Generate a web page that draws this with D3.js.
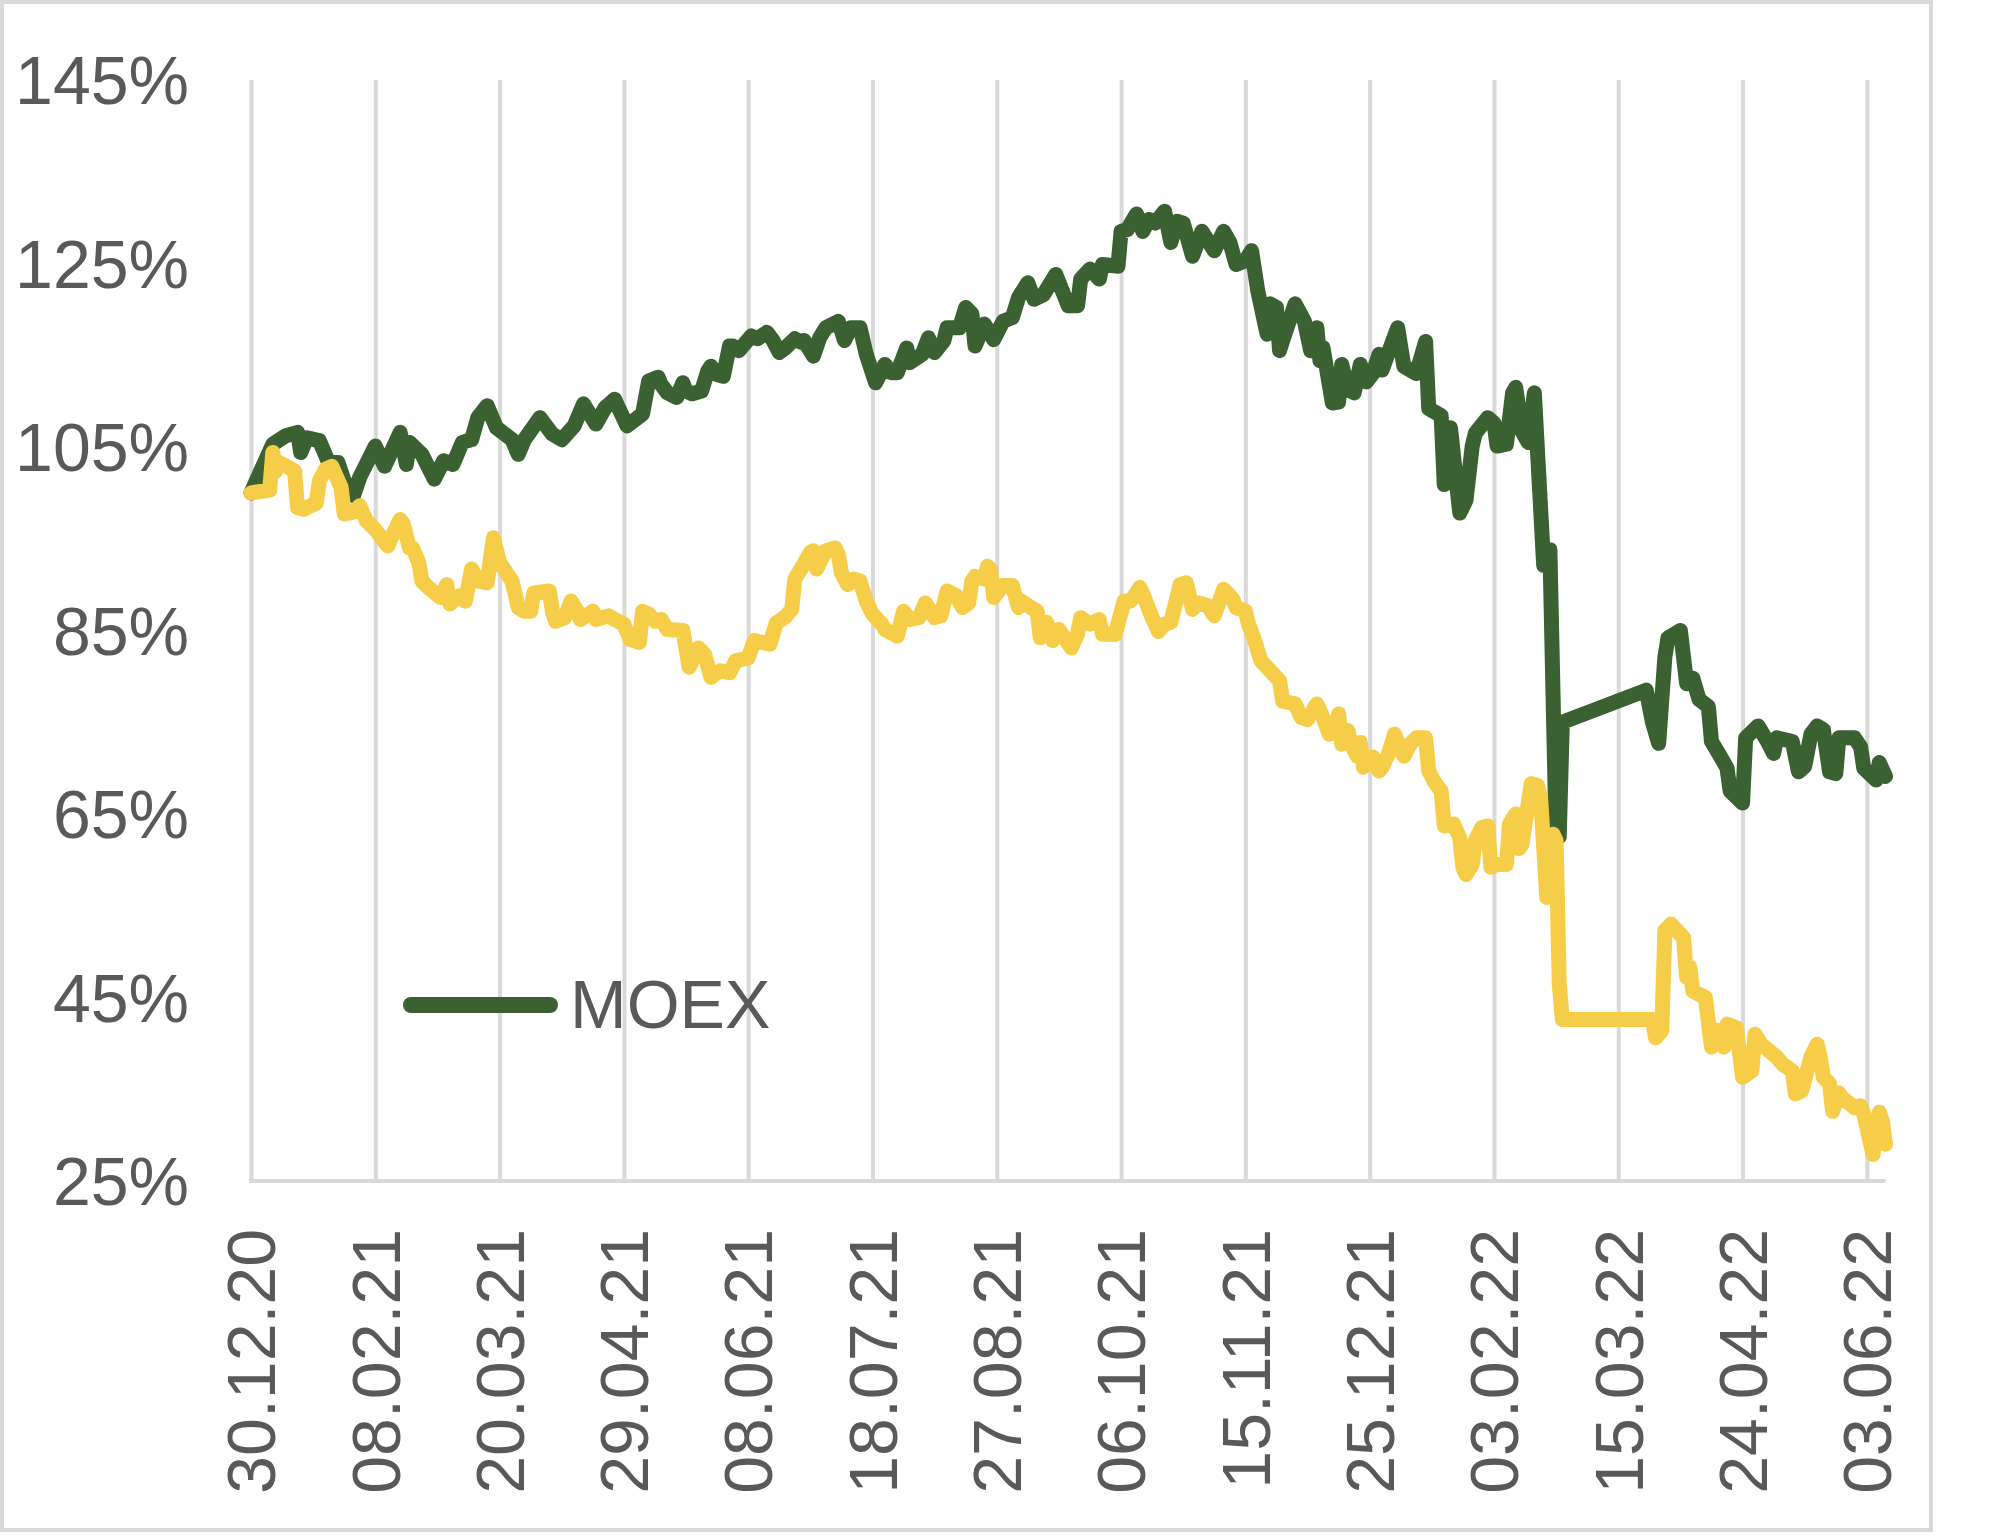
<!DOCTYPE html>
<html>
<head>
<meta charset="utf-8">
<script src="https://cdnjs.cloudflare.com/ajax/libs/d3/7.8.5/d3.min.js"></script>
<style>
  body { margin: 0; background: #fff; }
  svg text { font-family: "Liberation Sans", Arial, sans-serif; fill: #595959; }
</style>
</head>
<body>
<div id="chart-area"></div>
<script>

// tick labels of both axes
var xTickLabels = ["30.12.20","08.02.21","20.03.21","29.04.21","08.06.21","18.07.21","27.08.21",
  "06.10.21","15.11.21","25.12.21","03.02.22","15.03.22","24.04.22","03.06.22"];
var yTicks = [25, 45, 65, 85, 105, 125, 145];

// MOEX, % of 30.12.20
var moexDates = [
  "30.12.20","06.01.21","10.01.21","14.01.21","15.01.21","17.01.21","21.01.21","24.01.21","27.01.21","29.01.21",
  "01.02.21","03.02.21","08.02.21","11.02.21","16.02.21","18.02.21","19.02.21","23.02.21","27.02.21","02.03.21",
  "05.03.21","08.03.21","11.03.21","13.03.21","16.03.21","19.03.21","24.03.21","26.03.21","28.03.21","02.04.21",
  "06.04.21","09.04.21","13.04.21","16.04.21","20.04.21","23.04.21","26.04.21","30.04.21","05.05.21","07.05.21",
  "10.05.21","11.05.21","13.05.21","16.05.21","18.05.21","19.05.21","21.05.21","24.05.21","26.05.21","27.05.21",
  "29.05.21","31.05.21","02.06.21","03.06.21","05.06.21","09.06.21","11.06.21","14.06.21","16.06.21","18.06.21",
  "20.06.21","23.06.21","25.06.21","26.06.21","29.06.21","01.07.21","03.07.21","07.07.21","09.07.21","11.07.21",
  "14.07.21","16.07.21","19.07.21","22.07.21","24.07.21","26.07.21","29.07.21","30.07.21","03.08.21","05.08.21",
  "07.08.21","10.08.21","11.08.21","15.08.21","17.08.21","19.08.21","20.08.21","23.08.21","26.08.21","29.08.21",
  "01.09.21","03.09.21","06.09.21","08.09.21","11.09.21","15.09.21","19.09.21","22.09.21","23.09.21","26.09.21",
  "29.09.21","30.09.21","05.10.21","06.10.21","08.10.21","11.10.21","13.10.21","15.10.21","17.10.21","20.10.21",
  "22.10.21","24.10.21","26.10.21","29.10.21","01.11.21","05.11.21","08.11.21","10.11.21","12.11.21","15.11.21",
  "17.11.21","19.11.21","22.11.21","23.11.21","25.11.21","26.11.21","27.11.21","01.12.21","04.12.21","06.12.21",
  "08.12.21","09.12.21","10.12.21","13.12.21","15.12.21","16.12.21","18.12.21","20.12.21","22.12.21","24.12.21",
  "26.12.21","28.12.21","29.12.21","03.01.22","05.01.22","07.01.22","09.01.22","12.01.22","13.01.22","17.01.22",
  "18.01.22","19.01.22","20.01.22","23.01.22","25.01.22","27.01.22","28.01.22","01.02.22","03.02.22","04.02.22",
  "07.02.22","09.02.22","10.02.22","12.02.22","14.02.22","16.02.22","19.02.22","21.02.22","23.02.22","24.02.22",
  "25.02.22","24.03.22","26.03.22","28.03.22","30.03.22","31.03.22","04.04.22","06.04.22","08.04.22","10.04.22",
  "13.04.22","14.04.22","17.04.22","19.04.22","20.04.22","24.04.22","25.04.22","29.04.22","02.05.22","04.05.22",
  "05.05.22","10.05.22","12.05.22","14.05.22","16.05.22","18.05.22","20.05.22","22.05.22","24.05.22","25.05.22",
  "30.05.22","01.06.22","02.06.22","06.06.22","07.06.22","09.06.22"
];
var moexValues = [
  100.0,105.3,106.2,106.6,104.4,106.0,105.7,103.3,103.3,101.3,
  99.7,101.7,105.1,102.9,106.6,103.1,105.5,104.2,101.5,103.5,
  103.1,105.5,105.8,108.2,109.5,107.1,105.8,104.2,105.8,108.2,
  106.4,105.8,107.3,109.7,107.5,109.3,110.2,107.3,108.6,112.2,
  112.6,111.8,110.9,110.4,112.0,111.1,110.8,111.1,113.3,113.8,
  112.9,112.7,116.0,116.0,115.5,117.1,116.8,117.5,116.6,115.3,
  115.8,116.8,116.4,116.6,114.9,116.9,118.0,118.7,116.6,118.0,
  118.0,115.1,112.0,114.0,113.1,113.1,115.8,114.2,115.1,116.9,
  115.3,116.6,118.0,118.0,120.2,119.5,116.0,118.4,116.7,118.7,
  119.1,121.3,122.9,121.1,121.6,123.8,120.4,120.4,123.3,124.4,
  123.3,124.9,124.7,128.5,128.7,130.4,128.5,129.8,129.4,130.7,
  127.3,129.6,129.4,125.8,128.5,126.4,128.5,127.3,124.9,125.3,
  126.4,122.0,117.3,120.6,120.2,115.5,116.6,120.6,118.7,115.5,
  118.0,114.4,115.8,109.8,109.9,114.0,111.3,110.9,114.0,112.1,
  113.0,115.1,113.4,118.0,113.8,113.4,113.0,116.5,109.2,108.4,
  100.9,106.7,107.1,97.8,99.2,105.1,106.5,108.2,107.6,105.1,
  105.3,110.9,111.5,106.7,105.5,110.9,92.1,93.8,62.5,62.5,
  75.0,78.5,75.0,72.7,82.1,84.2,85.0,79.2,79.8,77.5,
  76.7,72.9,71.2,70.0,67.5,66.2,73.3,74.6,72.9,71.6,
  73.3,72.9,69.6,70.2,73.7,74.6,74.2,69.6,69.4,73.3,
  73.3,72.3,70.0,68.7,70.6,69.1
];

// second (yellow) series, % of 30.12.20
var otherDates = [
  "30.12.20","05.01.21","06.01.21","07.01.21","08.01.21","11.01.21","13.01.21","14.01.21","16.01.21","20.01.21",
  "21.01.21","23.01.21","25.01.21","28.01.21","29.01.21","01.02.21","03.02.21","05.02.21","08.02.21","12.02.21",
  "13.02.21","16.02.21","17.02.21","19.02.21","20.02.21","22.02.21","23.02.21","25.02.21","01.03.21","03.03.21",
  "04.03.21","07.03.21","09.03.21","11.03.21","13.03.21","16.03.21","18.03.21","20.03.21","24.03.21","26.03.21",
  "28.03.21","30.03.21","31.03.21","05.04.21","06.04.21","07.04.21","10.04.21","12.04.21","14.04.21","15.04.21",
  "19.04.21","20.04.21","24.04.21","26.04.21","29.04.21","01.05.21","04.05.21","05.05.21","07.05.21","09.05.21",
  "11.05.21","13.05.21","18.05.21","20.05.21","23.05.21","25.05.21","27.05.21","30.05.21","02.06.21","04.06.21",
  "08.06.21","10.06.21","15.06.21","17.06.21","20.06.21","22.06.21","23.06.21","25.06.21","28.06.21","29.06.21",
  "30.06.21","03.07.21","06.07.21","07.07.21","08.07.21","10.07.21","12.07.21","14.07.21","16.07.21","18.07.21",
  "21.07.21","22.07.21","26.07.21","28.07.21","30.07.21","02.08.21","04.08.21","07.08.21","09.08.21","11.08.21",
  "14.08.21","16.08.21","18.08.21","19.08.21","20.08.21","23.08.21","24.08.21","25.08.21","26.08.21","29.08.21",
  "01.09.21","03.09.21","04.09.21","07.09.21","09.09.21","10.09.21","12.09.21","14.09.21","16.09.21","20.09.21",
  "22.09.21","23.09.21","26.09.21","29.09.21","30.09.21","04.10.21","05.10.21","07.10.21","09.10.21","11.10.21",
  "12.10.21","13.10.21","16.10.21","18.10.21","20.10.21","22.10.21","25.10.21","27.10.21","29.10.21","31.10.21",
  "03.11.21","05.11.21","08.11.21","11.11.21","12.11.21","15.11.21","16.11.21","18.11.21","20.11.21","23.11.21",
  "26.11.21","27.11.21","01.12.21","03.12.21","05.12.21","08.12.21","10.12.21","12.12.21","14.12.21","15.12.21",
  "16.12.21","18.12.21","19.12.21","21.12.21","22.12.21","23.12.21","26.12.21","28.12.21","29.12.21","31.12.21",
  "02.01.22","05.01.22","07.01.22","09.01.22","12.01.22","13.01.22","15.01.22","17.01.22","18.01.22","21.01.22",
  "23.01.22","24.01.22","25.01.22","27.01.22","28.01.22","30.01.22","01.02.22","02.02.22","04.02.22","07.02.22",
  "08.02.22","10.02.22","11.02.22","12.02.22","15.02.22","17.02.22","18.02.22","20.02.22","22.02.22","23.02.22",
  "24.02.22","25.02.22","26.03.22","27.03.22","29.03.22","30.03.22","01.04.22","05.04.22","06.04.22","07.04.22",
  "08.04.22","12.04.22","14.04.22","16.04.22","18.04.22","19.04.22","22.04.22","24.04.22","27.04.22","28.04.22",
  "30.04.22","05.05.22","07.05.22","10.05.22","11.05.22","13.05.22","16.05.22","18.05.22","19.05.22","20.05.22",
  "22.05.22","23.05.22","25.05.22","26.05.22","30.05.22","01.06.22","02.06.22","05.06.22","07.06.22","08.06.22",
  "09.06.22"
];
var otherValues = [
  100.0,100.3,104.4,102.4,103.3,102.8,102.4,98.4,98.2,98.9,
  101.3,102.6,102.9,100.6,97.7,97.9,98.6,97.0,96.0,94.2,
  95.0,97.1,96.6,94.0,94.0,92.4,90.4,89.7,88.6,90.0,
  87.9,88.8,88.2,91.7,90.4,90.2,95.1,92.4,90.4,87.5,
  87.1,87.1,89.1,89.3,87.1,86.0,86.4,88.2,87.1,86.2,
  87.1,86.2,86.6,86.2,85.7,84.0,83.7,87.1,86.8,86.0,
  86.2,85.1,85.0,81.0,83.1,82.4,79.9,80.6,80.4,81.7,
  82.0,83.9,83.5,85.8,86.5,87.3,90.6,91.7,93.5,93.7,
  91.7,93.7,94.0,93.3,91.3,90.0,90.6,90.4,88.2,86.8,
  85.7,85.1,84.4,87.1,86.2,86.4,88.0,86.4,86.6,89.3,
  88.8,87.5,88.0,90.4,90.9,90.6,92.0,91.7,88.6,89.9,
  89.9,87.5,88.2,87.5,87.1,84.2,85.9,83.9,85.1,83.1,
  84.6,86.4,85.7,86.2,84.6,84.6,85.7,88.2,88.2,89.1,
  89.7,89.0,86.4,84.9,85.7,85.9,90.0,90.2,87.3,88.0,
  87.7,86.6,89.5,88.4,87.5,87.1,85.7,83.9,81.7,80.6,
  79.5,77.3,77.0,75.5,75.3,77.0,75.5,73.7,73.9,75.9,
  72.6,74.1,72.6,71.3,72.8,70.1,71.2,69.7,70.1,71.5,
  73.7,71.3,72.6,73.3,73.3,69.7,68.4,67.5,63.7,63.9,
  62.4,59.2,58.4,59.5,62.1,63.5,63.7,59.2,59.5,59.5,
  63.9,65.0,61.2,61.7,68.3,68.1,66.8,55.9,62.8,62.1,
  46.5,42.6,42.6,40.6,41.4,52.3,53.0,51.5,47.2,48.3,
  45.7,45.0,39.6,41.4,39.6,42.1,41.7,36.3,37.0,41.0,
  39.9,38.5,37.7,37.0,34.5,34.8,38.5,39.9,38.5,36.3,
  35.6,32.6,34.6,34.1,33.0,33.2,32.3,27.9,32.5,31.5,
  29.0
];

var parseDate = d3.timeParse("%d.%m.%y");
var formatDate = d3.timeFormat("%d.%m.%y");

var moex = moexDates.map((d, i) => ({ date: parseDate(d), value: moexValues[i] }));
var other = otherDates.map((d, i) => ({ date: parseDate(d), value: otherValues[i] }));

var svg = d3.select("#chart-area")
  .append("svg")
  .attr("width", 2001)
  .attr("height", 1536);

// chart frame
svg.append("rect")
  .attr("x", 2)
  .attr("y", 2)
  .attr("width", 1929)
  .attr("height", 1528)
  .attr("fill", "#fff")
  .attr("stroke", "#d9d9d9")
  .attr("stroke-width", 4);

var plotTop = 80, plotBottom = 1181;

var x = d3.scaleTime()
  .domain([moex[0].date, moex[moex.length - 1].date])
  .range([251, 1885.5]);

var y = d3.scaleLinear()
  .domain([25, 145])
  .range([plotBottom, plotTop]);

// x axis: vertical gridlines + rotated dates
var xAxis = svg.append("g")
  .attr("transform", "translate(0," + plotBottom + ")")
  .call(d3.axisBottom(x)
    .tickValues(xTickLabels.map(parseDate))
    .tickSize(-(plotBottom - plotTop))
    .tickFormat(formatDate));

xAxis.select(".domain").remove();
xAxis.selectAll(".tick line")
  .attr("stroke", "#d9d9d9")
  .attr("stroke-width", 4);
xAxis.selectAll(".tick text")
  .attr("transform", "rotate(-90)")
  .attr("x", -48)
  .attr("y", 0)
  .attr("dy", "0.35em")
  .attr("font-size", 68)
  .style("text-anchor", "end");

svg.append("line")
  .attr("x1", x.range()[0] - 2)
  .attr("x2", x.range()[1])
  .attr("y1", plotBottom)
  .attr("y2", plotBottom)
  .attr("stroke", "#d9d9d9")
  .attr("stroke-width", 4);

// y axis labels
var yAxis = svg.append("g")
  .attr("transform", "translate(251,0)")
  .call(d3.axisLeft(y)
    .tickValues(yTicks)
    .tickSize(0)
    .tickPadding(62)
    .tickFormat(d => d + "%"));

yAxis.select(".domain").remove();
yAxis.selectAll(".tick text")
  .attr("font-size", 68)
  .attr("dy", "0.35em");

var line = d3.line()
  .x(d => x(d.date))
  .y(d => y(d.value));

svg.append("path")
  .datum(moex)
  .attr("d", line)
  .attr("fill", "none")
  .attr("stroke", "#3b6133")
  .attr("stroke-width", 15)
  .attr("stroke-linejoin", "round")
  .attr("stroke-linecap", "round");

svg.append("path")
  .datum(other)
  .attr("d", line)
  .attr("fill", "none")
  .attr("stroke", "#f6cd48")
  .attr("stroke-width", 15)
  .attr("stroke-linejoin", "round")
  .attr("stroke-linecap", "round");

// legend (MOEX only)
var legend = svg.append("g").attr("transform", "translate(411,1005)");
legend.append("line")
  .attr("x1", 0)
  .attr("x2", 139)
  .attr("stroke", "#3b6133")
  .attr("stroke-width", 16)
  .attr("stroke-linecap", "round");
legend.append("text")
  .attr("x", 159)
  .attr("y", 23)
  .attr("font-size", 68)
  .text("MOEX");

</script>
</body>
</html>
